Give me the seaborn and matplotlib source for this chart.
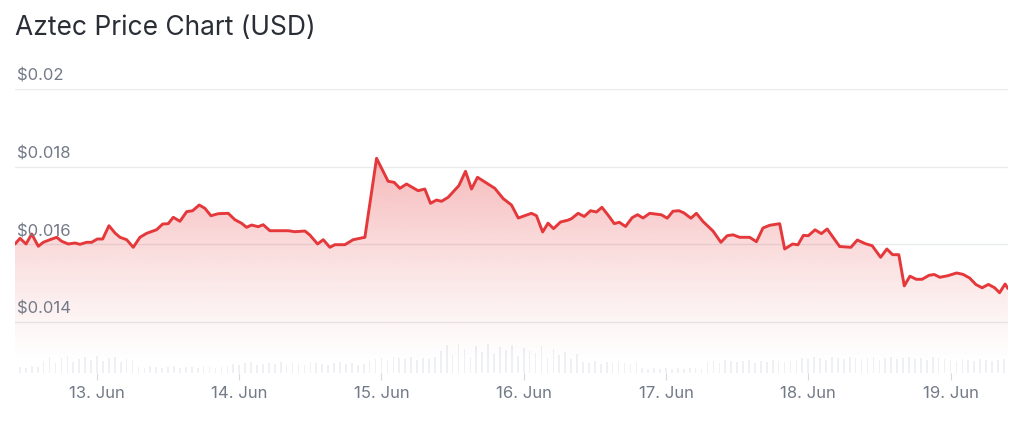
import numpy as np
import pandas as pd
import matplotlib
matplotlib.use("Agg")
import matplotlib.pyplot as plt
import matplotlib.dates as mdates
import matplotlib.transforms as mtransforms
import seaborn as sns

# ---------------- data ----------------
title = "Aztec Price Chart (USD)"
base_date = "2025-06-12"

# hours since 12 Jun 00:00 and price (USD)
price_hours = [10.17, 11.02, 12.03, 12.99, 14.10, 14.94, 16.07, 17.20, 18.05, 19.16,
               20.29, 21.13, 22.26, 23.11, 24.05, 24.96, 26.02, 27.04, 27.88, 29.01,
               30.12, 31.25, 32.38, 34.07, 35.08, 36.02, 36.87, 38.00, 39.13, 40.14,
               41.25, 42.21, 43.22, 44.46, 46.14, 47.27, 48.40, 49.24, 50.09, 51.20,
               52.04, 53.17, 56.26, 57.39, 59.08, 59.92, 61.22, 62.17, 63.29, 64.14,
               65.82, 67.22, 69.20, 71.17, 73.12, 74.14, 75.10, 76.23, 78.18, 79.31,
               80.27, 81.28, 82.13, 83.24, 85.05, 86.18, 87.19, 88.20, 89.99, 91.12,
               92.52, 93.93, 95.08, 96.18, 97.30, 98.15, 99.19, 100.10, 101.03, 102.21,
               103.43, 104.05, 105.17, 106.21, 107.27, 108.27, 109.19, 110.22, 111.27, 112.13,
               113.17, 114.30, 115.20, 116.13, 117.25, 119.21, 120.21, 121.18, 122.18, 123.02,
               124.20, 125.13, 126.24, 127.93, 129.26, 130.32, 131.30, 132.43, 134.12, 135.25,
               136.36, 137.49, 139.18, 140.02, 141.37, 142.26, 143.17, 144.01, 145.15, 146.21,
               147.19, 149.30, 151.20, 152.28, 153.60, 154.78, 156.21, 157.26, 158.23, 159.28,
               160.20, 161.15, 162.23, 163.20, 164.38, 165.26, 166.21, 167.56, 169.02, 170.09,
               171.22, 172.28, 173.33, 174.39, 175.43, 176.28, 177.21, 177.68]

prices_milli = [16.000, 16.147, 16.000, 16.258, 15.941, 16.044, 16.111, 16.173, 16.070, 16.000,
                16.026, 15.992, 16.044, 16.044, 16.129, 16.129, 16.472, 16.284, 16.173, 16.111,
                15.915, 16.173, 16.276, 16.369, 16.516, 16.524, 16.689, 16.586, 16.834, 16.859,
                17.006, 16.921, 16.730, 16.782, 16.792, 16.627, 16.534, 16.431, 16.490, 16.446,
                16.498, 16.343, 16.343, 16.317, 16.335, 16.232, 16.000, 16.111, 15.915, 15.982,
                15.982, 16.111, 16.173, 18.212, 17.618, 17.592, 17.437, 17.548, 17.375, 17.419,
                17.050, 17.135, 17.102, 17.205, 17.505, 17.876, 17.419, 17.721, 17.548, 17.437,
                17.174, 17.006, 16.671, 16.730, 16.792, 16.730, 16.310, 16.537, 16.397, 16.568,
                16.614, 16.653, 16.792, 16.710, 16.859, 16.826, 16.947, 16.748, 16.526, 16.560,
                16.452, 16.681, 16.756, 16.671, 16.792, 16.754, 16.666, 16.846, 16.859, 16.803,
                16.666, 16.792, 16.581, 16.335, 16.044, 16.214, 16.237, 16.173, 16.173, 16.059,
                16.413, 16.483, 16.524, 15.871, 16.000, 15.979, 16.222, 16.214, 16.366, 16.268,
                16.387, 15.935, 15.915, 16.103, 16.010, 15.956, 15.657, 15.871, 15.724, 15.724,
                14.919, 15.169, 15.089, 15.089, 15.192, 15.213, 15.141, 15.182, 15.252, 15.218,
                15.123, 14.955, 14.870, 14.957, 14.872, 14.743, 14.968, 14.852]

# hourly volume (relative units), hours 10..177
volume_start_hour = 10
volumes = [5, 6, 5, 7, 6,
           12, 16, 10, 15, 17, 11, 14, 16, 13, 17, 12, 15, 16, 11, 14, 13,
           6, 5, 7, 6, 5, 6, 7, 5, 6, 6, 5, 7, 6, 5, 6, 7,
           9, 8, 10, 11, 8, 9, 10, 9, 11, 8, 10, 9, 8, 11, 10, 9, 8, 10, 11, 9, 10, 8, 9, 12,
           14, 15, 13, 16, 15, 14, 16, 13, 15, 14, 16,
           22, 28, 18, 29, 24, 16, 27, 21, 29, 19, 26, 23, 28, 17, 25, 22, 20, 27, 15, 24, 18, 21, 14, 19,
           11, 10, 12, 9, 11, 10, 12, 10, 9, 11,
           5, 4, 5, 4, 5, 4, 5, 4, 5, 5, 4,
           11, 12, 10, 13, 12, 11, 12, 13, 10, 12, 11, 13, 12, 11, 12, 13,
           15, 14, 16, 15, 13, 16, 15, 14, 16, 15, 14, 15, 16, 13, 15, 16, 14, 15, 16, 14, 15, 13, 16, 15, 14,
           13, 12, 14, 13, 12, 14, 13, 12, 13, 14]

y_ticks = [0.014, 0.016, 0.018, 0.020]
y_tick_labels = ["$0.014", "$0.016", "$0.018", "$0.02"]
x_tick_days = ["2025-06-13", "2025-06-14", "2025-06-15", "2025-06-16",
               "2025-06-17", "2025-06-18", "2025-06-19"]
x_tick_labels = ["13. Jun", "14. Jun", "15. Jun", "16. Jun", "17. Jun", "18. Jun", "19. Jun"]

# ---------------- style ----------------
sns.set_theme(style="white")
plt.rcParams["font.family"] = ["Inter", "DejaVu Sans"]

LINE_COLOR = "#e5383b"
GRID_COLOR = "#e9ebee"
LABEL_COLOR = "#737a87"
TITLE_COLOR = "#2a2e36"
VOL_COLOR = "#eef0f3"

base = pd.Timestamp(base_date)
times = base + pd.to_timedelta(price_hours, unit="h")
prices = np.array(prices_milli) / 1000.0
df = pd.DataFrame({"time": times, "price": prices})

vol_times = base + pd.to_timedelta(np.arange(len(volumes)) + volume_start_hour, unit="h")

W, H = 1024, 426
fig = plt.figure(figsize=(W / 100, H / 100), dpi=100)
fig.patch.set_facecolor("white")

left_px, right_px, top_px, bottom_px = 15, 1008, 89, 373
rect = [left_px / W, 1 - bottom_px / H, (right_px - left_px) / W, (bottom_px - top_px) / H]

x0 = base + pd.Timedelta(hours=10.17)
x1 = base + pd.Timedelta(hours=177.7)
y_lo, y_hi = 0.012671, 0.020

# volume axes (behind)
ax_v = fig.add_axes(rect)
ax_v.bar(vol_times, volumes, width=0.28 / 24, color=VOL_COLOR, linewidth=0)
ax_v.set_ylim(0, bottom_px - top_px)
ax_v.set_xlim(x0, x1)
ax_v.axis("off")

# price axes
ax = fig.add_axes(rect)
ax.patch.set_alpha(0)
for sp in ax.spines.values():
    sp.set_visible(False)

ax.set_xlim(x0, x1)
ax.set_ylim(y_lo, y_hi)

for yv in y_ticks:
    ax.axhline(yv, color=GRID_COLOR, linewidth=1.0, zorder=0)

# gradient fill under the line
poly = ax.fill_between(df["time"], df["price"], y_lo, color="none", linewidth=0)
grad = np.linspace(0, 1, 256).reshape(-1, 1)
rgba = np.zeros((256, 1, 4))
r, g, b = matplotlib.colors.to_rgb(LINE_COLOR)
rgba[..., 0], rgba[..., 1], rgba[..., 2] = r, g, b
rgba[..., 3] = 0.36 * grad ** 1.2
img = ax.imshow(rgba, aspect="auto", origin="lower",
                extent=[mdates.date2num(x0), mdates.date2num(x1), 0.0129, 0.0183],
                zorder=1, interpolation="bilinear")
path = poly.get_paths()[0]
img.set_clip_path(path, transform=ax.transData)
ax.set_xlim(x0, x1)
ax.set_ylim(y_lo, y_hi)

sns.lineplot(data=df, x="time", y="price", ax=ax, color=LINE_COLOR, linewidth=2.1, zorder=3)

# y labels drawn inside the plot, above their gridlines
trans = mtransforms.blended_transform_factory(ax.transAxes, ax.transData)
for yv, lab in zip(y_ticks, y_tick_labels):
    ax.annotate(lab, xy=(0, yv), xycoords=trans, xytext=(2, 5), textcoords="offset pixels",
                ha="left", va="bottom", fontsize=12, color=LABEL_COLOR, zorder=4)
ax.set_yticks([])
ax.set_ylabel("")
ax.set_xlabel("")

ax.set_xticks(pd.to_datetime(x_tick_days))
ax.set_xticklabels(x_tick_labels)
ax.tick_params(axis="x", length=5, width=0.8, color="#d5d9e0", pad=4,
               labelsize=12, labelcolor=LABEL_COLOR, bottom=True)

fig.text(15 / W, 1 - 28 / H, title, ha="left", va="center", fontsize=19, color=TITLE_COLOR)

fig.savefig("out.png", dpi=100, facecolor="white")
